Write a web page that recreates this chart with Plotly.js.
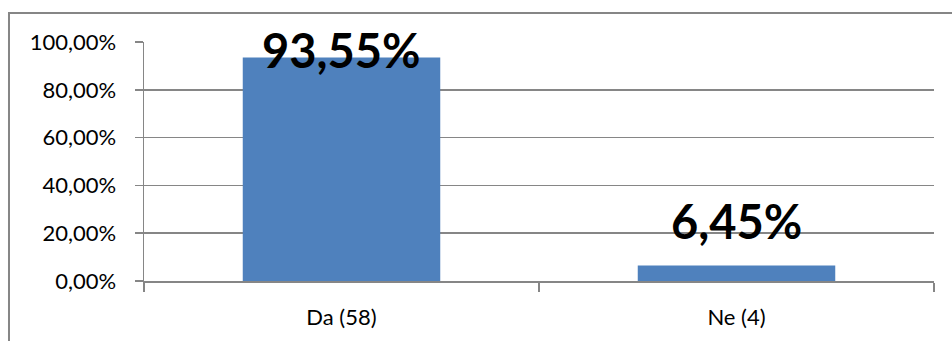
<!DOCTYPE html>
<html>
<head>
<meta charset="utf-8">
<script src="https://cdn.plot.ly/plotly-3.0.1.min.js"></script>
<style>html,body{margin:0;padding:0;background:#fff;}#chart{width:952px;height:341px;}</style>
</head>
<body>
<div id="chart"></div>
<script>
const categories = ["Da (58)", "Ne (4)"];
const values = [0.9355, 0.0645];
const labels = ["93,55%", "6,45%"];
const labelShift = [-23, 15];

const trace = {
  type: "bar",
  x: categories,
  y: values,
  width: 0.5,
  marker: { color: "#4F81BD" },
  hoverinfo: "none"
};

const annotations = categories.map((c, i) => ({
  x: c, y: values[i], xref: "x", yref: "y",
  text: labels[i], showarrow: false,
  yanchor: "bottom", yshift: labelShift[i],
  font: { family: "Lato, 'DejaVu Sans', sans-serif", size: 47, color: "#000", weight: 700 }
}));

const layout = {
  width: 952, height: 341,
  margin: { l: 144, r: 18, t: 42, b: 60 },
  paper_bgcolor: "#fff", plot_bgcolor: "#fff",
  separators: ",.",
  showlegend: false,
  font: { family: "Lato, 'DejaVu Sans', sans-serif", size: 22, color: "#000" },
  xaxis: {
    type: "category",
    showline: true, linecolor: "#868686", linewidth: 1.5,
    ticks: "outside", tickson: "boundaries", ticklen: 9, tickcolor: "#868686", tickwidth: 1.5,
    showgrid: false,
    tickfont: { size: 22 },
    ticklabelstandoff: 16
  },
  yaxis: {
    range: [0, 1], tick0: 0, dtick: 0.2,
    tickformat: ".2%",
    showline: true, linecolor: "#868686", linewidth: 1.5,
    ticks: "outside", ticklen: 8, tickcolor: "#868686", tickwidth: 1.5,
    showgrid: true, gridcolor: "#868686", gridwidth: 1.5,
    zeroline: false,
    tickfont: { size: 22 },
    ticklabelstandoff: 14
  },
  annotations: annotations,
  shapes: [{
    type: "rect", xref: "paper", yref: "paper",
    x0: -0.1709, x1: 1.2, y0: -0.5, y1: 1.1213,
    line: { color: "#868686", width: 2 }, fillcolor: "rgba(0,0,0,0)", layer: "below"
  }]
};

Plotly.newPlot("chart", [trace], layout, { displayModeBar: false, staticPlot: true });
</script>
</body>
</html>
